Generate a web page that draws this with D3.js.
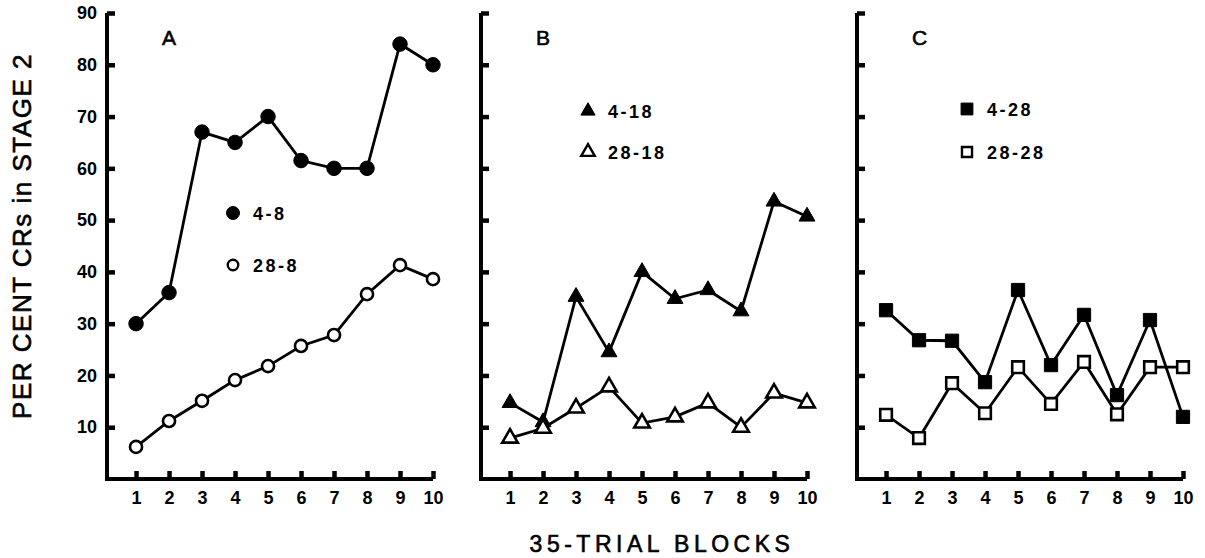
<!DOCTYPE html>
<html>
<head>
<meta charset="utf-8">
<script src="https://cdn.jsdelivr.net/npm/d3@7"></script>
<style>
  body { margin: 0; background: #fff; }
  svg { display: block; }
  .axis path { stroke: #000; stroke-width: 4; }
  .axis line { stroke: #000; stroke-width: 4.5; }
  .axis text { font-family: "Liberation Sans", Arial, sans-serif; font-weight: bold; font-size: 18px; fill: #000; }
</style>
</head>
<body>
<svg width="1205" height="558"></svg>
<script>
var blocks = [1, 2, 3, 4, 5, 6, 7, 8, 9, 10];
var yTicks = [10, 20, 30, 40, 50, 60, 70, 80, 90];

// panel A
var a_4_8 = [30, 36, 67, 65, 70, 61.5, 60, 60, 84, 80];
var a_28_8 = [6.2, 11.2, 15.1, 19.1, 21.8, 25.7, 27.8, 35.7, 41.3, 38.6];
// panel B
var b_4_18 = [14.7, 11, 35.2, 24.5, 40, 34.8, 36.5, 32.4, 53.6, 50.7];
var b_28_18 = [7.9, 9.8, 13.7, 17.8, 10.8, 12, 14.7, 10, 16.6, 14.7];
// panel C
var c_4_28 = [32.6, 26.8, 26.7, 18.7, 36.5, 22, 31.7, 16.2, 30.7, 12];
var c_28_28 = [12.4, 7.9, 18.5, 12.7, 21.6, 14.5, 22.6, 12.5, 21.6, 21.6];

var panels = [
  { letter: 'A', left: 107, shape: d3.symbolCircle,
    series: [
      { name: '4-8', values: a_4_8, filled: true },
      { name: '28-8', values: a_28_8, filled: false }
    ],
    legend: { x: 233, y: 213, gap: 52 } },
  { letter: 'B', left: 481, shape: d3.symbolTriangle,
    series: [
      { name: '4-18', values: b_4_18, filled: true },
      { name: '28-18', values: b_28_18, filled: false }
    ],
    legend: { x: 588, y: 111, gap: 41 } },
  { letter: 'C', left: 857, shape: d3.symbolSquare,
    series: [
      { name: '4-28', values: c_4_28, filled: true },
      { name: '28-28', values: c_28_28, filled: false }
    ],
    legend: { x: 967, y: 109, gap: 43 } }
];

var plotTop = 13, plotBottom = 479;
var font = '"Liberation Sans", Arial, sans-serif';

var y = d3.scaleLinear().domain([0, 90]).range([plotBottom, plotTop]);
var x = d3.scaleLinear().domain([0.12, 10]).range([0, 326]);

var svg = d3.select('svg');

function symbolSize(shape, filled) {
  if (shape === d3.symbolCircle) return filled ? 165 : 115;
  if (shape === d3.symbolTriangle) return filled ? 110 : 105;
  return filled ? 175 : 135;
}

var line = d3.line()
    .x(function(d, i) { return x(blocks[i]); })
    .y(function(d) { return y(d); });

panels.forEach(function(p, pi) {
  var g = svg.append('g')
      .attr('transform', 'translate(' + p.left + ',0)');

  var yAxis = d3.axisLeft(y)
      .tickValues(yTicks)
      .tickSize(-8)
      .tickSizeOuter(0)
      .tickPadding(10)
      .tickFormat(pi === 0 ? d3.format('d') : function() { return ''; });

  var xAxis = d3.axisBottom(x)
      .tickValues(blocks)
      .tickSize(-8)
      .tickSizeOuter(0)
      .tickPadding(12);

  g.append('g')
      .attr('class', 'axis')
      .call(yAxis)
      .select('.domain')
      .attr('d', 'M0,' + y(90) + 'V' + plotBottom);

  g.append('g')
      .attr('class', 'axis')
      .attr('transform', 'translate(0,' + plotBottom + ')')
      .call(xAxis)
      .select('.domain')
      .attr('d', 'M-2,0H' + x(10));

  g.selectAll('.axis path.domain').attr('fill', 'none');

  p.series.forEach(function(s) {
    g.append('path')
        .datum(s.values)
        .attr('d', line)
        .attr('fill', 'none')
        .attr('stroke', '#000')
        .attr('stroke-width', 2.8);
  });

  p.series.forEach(function(s) {
    g.selectAll(null)
        .data(s.values)
        .enter().append('path')
        .attr('transform', function(d, i) { return 'translate(' + x(blocks[i]) + ',' + y(d) + ')'; })
        .attr('d', d3.symbol().type(p.shape).size(symbolSize(p.shape, s.filled)))
        .attr('fill', s.filled ? '#000' : '#fff')
        .attr('stroke', '#000')
        .attr('stroke-width', s.filled ? 1 : 2.6);
  });

  g.append('text')
      .attr('x', x(1) + 26)
      .attr('y', 45)
      .attr('font-family', font)
      .attr('font-size', 21)
      .attr('fill', '#000')
      .attr('stroke', '#000')
      .attr('stroke-width', 0.6)
      .text(p.letter);

  p.series.forEach(function(s, si) {
    var ly = p.legend.y + si * p.legend.gap;
    svg.append('path')
        .attr('transform', 'translate(' + p.legend.x + ',' + ly + ')')
        .attr('d', d3.symbol().type(p.shape).size(symbolSize(p.shape, s.filled) * (s.filled ? 0.8 : 0.75)))
        .attr('fill', s.filled ? '#000' : '#fff')
        .attr('stroke', '#000')
        .attr('stroke-width', s.filled ? 1 : 2.4);
    svg.append('text')
        .attr('x', p.legend.x + 20)
        .attr('y', ly + 6.5)
        .attr('font-family', font)
        .attr('font-weight', 'bold')
        .attr('font-size', 18)
        .attr('letter-spacing', 2.5)
        .attr('fill', '#000')
        .text(s.name);
  });
});

svg.append('text')
    .attr('transform', 'translate(31,236) rotate(-90)')
    .attr('text-anchor', 'middle')
    .attr('font-family', font)
    .attr('font-size', 26)
    .attr('letter-spacing', 1.5)
    .attr('fill', '#000')
    .attr('stroke', '#000')
    .attr('stroke-width', 0.6)
    .text('PER CENT CRs in STAGE 2');

svg.append('text')
    .attr('x', 662)
    .attr('y', 552)
    .attr('text-anchor', 'middle')
    .attr('font-family', font)
    .attr('font-size', 23)
    .attr('letter-spacing', 4.5)
    .attr('fill', '#000')
    .attr('stroke', '#000')
    .attr('stroke-width', 0.6)
    .text('35-TRIAL BLOCKS');
</script>
</body>
</html>
